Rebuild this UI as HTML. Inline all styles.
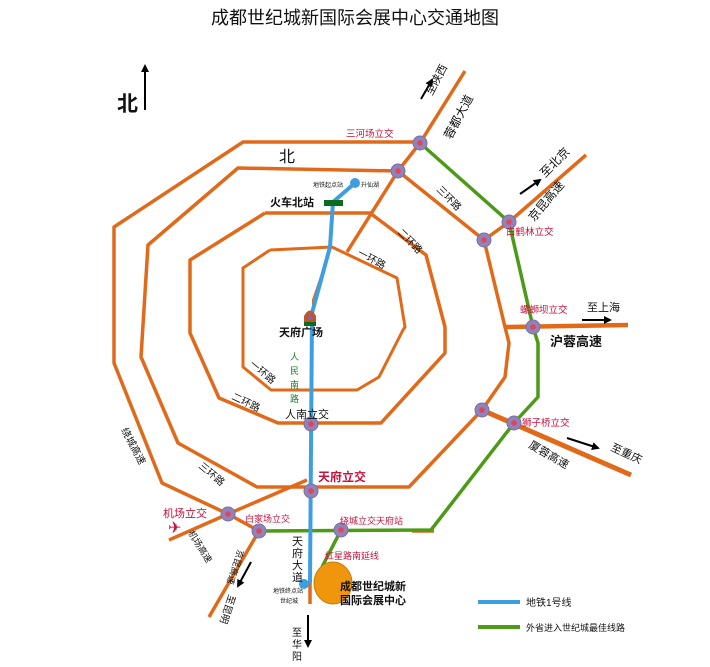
<!DOCTYPE html>
<html><head><meta charset="utf-8"><style>
html,body{margin:0;padding:0;background:#fff;}
svg{display:block;}
text{font-family:"Liberation Sans","Noto Sans CJK SC",sans-serif;}
</style></head><body>
<svg width="710" height="667" viewBox="0 0 710 667" xmlns="http://www.w3.org/2000/svg">
<defs>
<marker id="ar" markerWidth="8" markerHeight="8" refX="6" refY="4" orient="auto" markerUnits="userSpaceOnUse"><path d="M0,0 L8,4 L0,8 Z" fill="#000"/></marker>
</defs>
<text x="355" y="24" font-size="18" text-anchor="middle" fill="#111">成都世纪城新国际会展中心交通地图</text>
<!-- north -->
<line x1="145" y1="110" x2="145" y2="66" stroke="#000" stroke-width="2" marker-end="url(#ar)"/>
<text x="117" y="111" font-size="21" font-weight="bold" fill="#111">北</text>

<g fill="none" stroke="#e06a1a" stroke-width="3.5" stroke-linejoin="round">
<!-- outer ring (绕城) -->
<polyline points="420,142 243,142 114,227 114,363 162,483 228,514 259,531"/>
<!-- third ring -->
<polyline points="398,171 238,168 148,245 141,357 178,443 257,487 409,487 482,410 505,377 509,343 505,327 484,240 398,171"/>
<!-- second ring -->
<polyline points="265,213 370,213 426,255 445,327 445,353 381,423 278,423 219,398 190,333 190,260 265,213"/>
<!-- first ring -->
<polyline points="270,250 332,247 397,278 405,327 403,330 379,377 357,390 271,390 243,367 243,268 270,250" stroke-width="3"/>
<!-- radials -->
<polyline points="465,71 420,143 398,171 347,252"/>
<polyline points="586,155 509,222 484,240"/>
<polyline points="505,327 628,325" stroke-width="4.5"/>
<polyline points="482,410 631,475" stroke-width="5"/>
<polyline points="169,540 228,514 307,480"/>
<polyline points="259,531 209,617"/>
<polyline points="310,583 310,604"/>
<polyline points="412,531 434,531"/>
<polyline points="331,247 313,300 313,313" stroke-width="2"/>
</g>
<!-- green route -->
<polyline points="420,143 509,222 533,327 538,343 538,397 514,423 431,530 259,531" fill="none" stroke="#4c9a16" stroke-width="3.5" stroke-linejoin="round"/>
<polyline points="341,530 322,567" fill="none" stroke="#4c9a16" stroke-width="3.5"/>
<!-- subway -->
<polyline points="355,183 333,202 330,247 312,313 310,583" fill="none" stroke="#3d9ee0" stroke-width="4" stroke-linejoin="round"/>
<circle cx="355" cy="183" r="5" fill="#3d9ee0"/>
<circle cx="304" cy="584" r="5" fill="#3d9ee0"/>
<rect x="324" y="200" width="19" height="6" fill="#0d6b1e"/>
<path d="M304,323 L304,316 Q310,305 316,316 L316,323 Z" fill="#c0542a"/>
<path d="M307,320 L310,312 L313,320Z" fill="#8a5fa0"/>
<rect x="304" y="322" width="12" height="4" fill="#0d6b1e"/>
<!-- expo -->
<ellipse cx="333" cy="583" rx="19" ry="21" fill="#f0960c" stroke="#c77a08" stroke-width="1"/>
<!-- nodes -->
<g fill="#8f83b8" stroke="#7b6fa6" stroke-width="1">
<circle cx="420" cy="143" r="7"/><circle cx="398" cy="171" r="7"/><circle cx="509" cy="222" r="7"/><circle cx="484" cy="240" r="7"/><circle cx="533" cy="327" r="7"/><circle cx="482" cy="410" r="7"/><circle cx="514" cy="423" r="7"/><circle cx="311" cy="424" r="7"/><circle cx="311" cy="491" r="7"/><circle cx="228" cy="514" r="7"/><circle cx="259" cy="531" r="7"/><circle cx="341" cy="530" r="7"/>
</g>
<g fill="#e0455a">
<circle cx="420" cy="143" r="2.8"/><circle cx="398" cy="171" r="2.8"/><circle cx="509" cy="222" r="2.8"/><circle cx="484" cy="240" r="2.8"/><circle cx="533" cy="327" r="2.8"/><circle cx="482" cy="410" r="2.8"/><circle cx="514" cy="423" r="2.8"/><circle cx="311" cy="424" r="2.8"/><circle cx="311" cy="491" r="2.8"/><circle cx="228" cy="514" r="2.8"/><circle cx="259" cy="531" r="2.8"/><circle cx="341" cy="530" r="2.8"/>
</g>
<!-- arrows -->
<g stroke="#000" stroke-width="2">
<line x1="421" y1="99" x2="432" y2="80" marker-end="url(#ar)"/>
<line x1="520" y1="194" x2="540" y2="180" marker-end="url(#ar)"/>
<line x1="582" y1="320" x2="610" y2="320" marker-end="url(#ar)"/>
<line x1="567" y1="438" x2="598" y2="448" marker-end="url(#ar)"/>
<line x1="251" y1="562" x2="238" y2="586" marker-end="url(#ar)"/>
<line x1="308" y1="615" x2="308" y2="646" marker-end="url(#ar)"/>
</g>
<!-- labels -->
<g fill="#c8103a" font-size="9.5">
<text x="346" y="137">三河场立交</text>
<text x="506" y="235">白鹤林立交</text>
<text x="520" y="313">螺蛳坝立交</text>
<text x="522" y="426">狮子桥立交</text>
<text x="163" y="517" font-size="11">机场立交</text>
<text x="245" y="522" font-size="9">白家场立交</text>
<text x="340" y="524" font-size="9">绕城立交天府站</text>
<text x="325" y="559" font-size="9">红星路南延线</text>
<text x="318" y="481" font-size="12" font-weight="bold">天府立交</text>
</g>
<text x="168" y="533" font-size="16" fill="#c8103a">✈</text>
<g fill="#111" font-size="12">
<text x="279" y="162" font-size="16">北</text>
<text x="270" y="206" font-size="11" font-weight="bold">火车北站</text>
<text x="279" y="336" font-size="11" font-weight="bold">天府广场</text>
<text x="285" y="418" font-size="11">人南立交</text>
<text x="550" y="346" font-size="13" font-weight="bold">沪蓉高速</text>
<text x="587" y="311" font-size="11">至上海</text>
<text x="340" y="590" font-size="11" font-weight="bold">成都世纪城新</text>
<text x="340" y="604" font-size="11" font-weight="bold">国际会展中心</text>
<text x="313" y="187" font-size="6">地铁起点站</text>
<text x="361" y="187" font-size="6">升仙湖</text>
<text x="273" y="593" font-size="6">地铁终点站</text>
<text x="280" y="603" font-size="6">世纪城</text>
<text x="292" y="545" font-size="11">天</text><text x="292" y="557" font-size="11">府</text><text x="292" y="569" font-size="11">大</text><text x="292" y="581" font-size="11">道</text>
<text x="292" y="636" font-size="10">至</text><text x="292" y="648" font-size="10">华</text><text x="292" y="660" font-size="10">阳</text>
</g>
<g fill="#1e7a2a" font-size="9">
<text x="290" y="360">人</text><text x="290" y="374">民</text><text x="290" y="388">南</text><text x="290" y="402">路</text>
</g>
<g fill="#111" font-size="11">
<text transform="translate(432,96) rotate(-62)">至陕西</text>
<text transform="translate(451,140) rotate(-62)" font-size="12">蓉都大道</text>
<text transform="translate(545,178) rotate(-45)" font-size="12">至北京</text>
<text transform="translate(534,222) rotate(-50)" font-size="12">京昆高速</text>
<text transform="translate(436,190) rotate(45)" font-size="10">三环路</text>
<text transform="translate(397,233) rotate(45)" font-size="10">二环路</text>
<text transform="translate(357,255) rotate(28)" font-size="10">一环路</text>
<text transform="translate(249,365) rotate(40)" font-size="10">一环路</text>
<text transform="translate(231,399) rotate(25)" font-size="10">二环路</text>
<text transform="translate(198,467) rotate(40)" font-size="10">三环路</text>
<text transform="translate(121,430) rotate(62)" font-size="10">绕城高速</text>
<text transform="translate(610,450) rotate(25)" font-size="11">至重庆</text>
<text transform="translate(528,447) rotate(30)" font-size="11">厦蓉高速</text>
<text transform="translate(188,533) rotate(58)" font-size="9">机场高速</text>
<text transform="translate(238,549) rotate(108)" font-size="9">京昆高速</text>
<text transform="translate(229,594) rotate(108)" font-size="10">至昆明</text>
</g>
<!-- legend -->
<line x1="478" y1="602" x2="520" y2="602" stroke="#3d9ee0" stroke-width="4"/>
<text x="526" y="606" font-size="10" fill="#111">地铁1号线</text>
<line x1="478" y1="627" x2="520" y2="627" stroke="#4c9a16" stroke-width="4"/>
<text x="526" y="631" font-size="9" fill="#111">外省进入世纪城最佳线路</text>
</svg>
</body></html>
